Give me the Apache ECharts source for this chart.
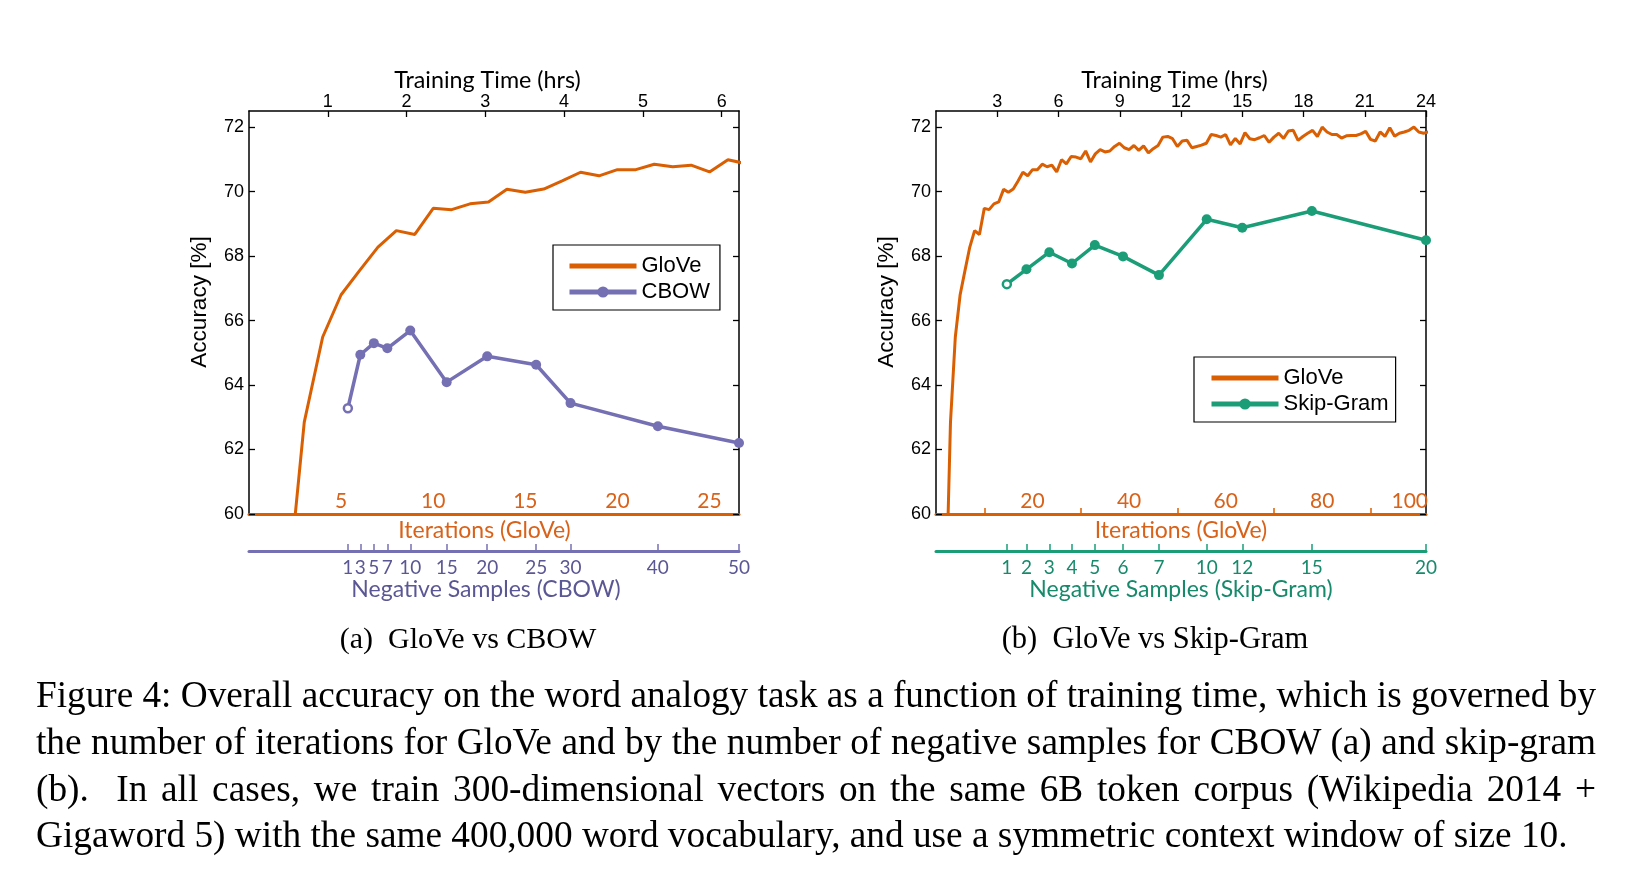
<!DOCTYPE html>
<html>
<head>
<meta charset="utf-8">
<script src="https://cdn.jsdelivr.net/npm/echarts@6/dist/echarts.min.js"></script>
<style>
html,body{margin:0;padding:0;background:#fff;}
#chart{position:absolute;left:0;top:0;width:1630px;height:874px;}
.sub{position:absolute;font-family:'Liberation Serif','Times New Roman',serif;color:#000;white-space:nowrap;transform:translate(-50%,-50%);}
#cap{position:absolute;left:36px;top:672px;width:1560px;font-family:'Liberation Serif','Times New Roman',serif;font-size:37.3px;line-height:46.8px;color:#000;}
#cap div{white-space:nowrap;text-align:justify;text-align-last:justify;width:1560px;}
#cap div.last{text-align-last:left;}
</style>
</head>
<body>
<div id="chart"></div>
<div class="sub" style="left:468px;top:638px;font-size:30px">(a)&nbsp; GloVe vs CBOW</div>
<div class="sub" style="left:1155px;top:638px;font-size:30.5px">(b)&nbsp; GloVe vs Skip-Gram</div>
<div id="cap">
<div>Figure 4: Overall accuracy on the word analogy task as a function of training time, which is governed by</div>
<div>the number of iterations for GloVe and by the number of negative samples for CBOW (a) and skip-gram</div>
<div>(b).&nbsp; In all cases, we train 300-dimensional vectors on the same 6B token corpus (Wikipedia 2014 +</div>
<div class="last">Gigaword 5) with the same 400,000 word vocabulary, and use a symmetric context window of size 10.</div>
</div>
<script>
// ---------------- data ----------------
const accuracyTicks = [60, 62, 64, 66, 68, 70, 72];

// GloVe: accuracy vs iteration (shared by both panels)
const gloveIterations = [2,3,4,5,6,7,8,9,10,11,12,13,14,15,16,17,18,19,20,21,22,23,24,25,26,27,
  28,29,30,31,32,33,34,35,36,37,38,39,40,41,42,43,44,45,46,47,48,49,50,51,52,
  53,54,55,56,57,58,59,60,61,62,63,64,65,66,67,68,69,70,71,72,73,74,75,76,77,
  78,79,80,81,82,83,84,85,86,87,88,89,90,91,92,93,94,95,96,97,98,99,100,101,102];
const gloveAccuracy = [57.0,62.85,65.49,66.80,67.55,68.28,68.79,68.67,69.48,69.44,69.62,69.68,70.07,69.98,70.08,70.33,70.60,70.49,70.68,70.68,70.85,70.77,70.82,70.61,70.99,70.86,
  71.09,71.07,71.02,71.26,70.92,71.17,71.30,71.23,71.26,71.40,71.50,71.36,71.30,71.43,71.28,71.42,71.20,71.33,71.43,71.69,71.71,71.64,71.40,71.57,71.59,
  71.36,71.40,71.44,71.50,71.77,71.74,71.69,71.77,71.45,71.65,71.48,71.83,71.64,71.61,71.67,71.74,71.53,71.69,71.81,71.65,71.88,71.90,71.59,71.71,71.81,
  71.90,71.71,72.00,71.85,71.77,71.77,71.66,71.73,71.74,71.74,71.79,71.87,71.62,71.57,71.85,71.71,71.98,71.72,71.81,71.85,71.90,72.00,71.85,71.81,71.85];

// Panel (a)
const hoursTicksA = [1, 2, 3, 4, 5, 6];
const iterLabelsA = [5, 10, 15, 20, 25];
const cbowNegSamples = [1, 3, 5, 7, 10, 15, 20, 25, 30, 40, 50];
const cbowHours = [1.255, 1.413, 1.585, 1.756, 2.047, 2.509, 3.024, 3.645, 4.081, 5.190, 6.22];
const cbowAccuracy = [63.28, 64.94, 65.30, 65.14, 65.69, 64.09, 64.89, 64.63, 63.44, 62.72, 62.20];

// Panel (b)
const hoursTicksB = [3, 6, 9, 12, 15, 18, 21, 24];
const iterTicksB = [10, 30, 50, 70, 90];
const iterLabelsB = [20, 40, 60, 80, 100];
const sgNegSamples = [1, 2, 3, 4, 5, 6, 7, 10, 12, 15, 20];
const sgHours = [3.47, 4.43, 5.55, 6.66, 7.78, 9.16, 10.92, 13.26, 15.00, 18.41, 24.0];
const sgAccuracy = [67.13, 67.59, 68.12, 67.77, 68.34, 67.99, 67.41, 69.14, 68.88, 69.40, 68.49];

// ---------------- styling ----------------
const C_GLOVE = '#d95f02', C_CBOW = '#7570b3', C_SG = '#1b9e77';
const T_GLOVE = '#d9621a', T_CBOW = '#5b5794', T_SG = '#168a6b';
const SANS = '"Liberation Sans", Arial, Helvetica, sans-serif';
const HUM = 'Lato, "Open Sans", sans-serif';

function lookup(keys, vals, v) {
  let best = 0, d = Infinity;
  keys.forEach((k, i) => { const dd = Math.abs(k - v); if (dd < d) { d = dd; best = i; } });
  return String(vals[best]);
}

const gloveData = gloveIterations.map((it, i) => [it, gloveAccuracy[i]]);
function markerData(xs, ys, color) {
  return xs.map((x, i) => i === 0
    ? { value: [x, ys[i]], symbolSize: 8, itemStyle: { color: '#fff', borderColor: color, borderWidth: 2.5 } }
    : [x, ys[i]]);
}

function yAxes(g) {
  const common = {
    type: 'value', gridIndex: g, min: 60, max: 72.5,
    axisLine: { show: true, onZero: false, lineStyle: { color: '#000', width: 1.5 } },
    axisTick: { show: true, inside: true, length: 6, lineStyle: { color: '#000', width: 1.3 }, customValues: accuracyTicks },
    splitLine: { show: false }
  };
  return [
    Object.assign({}, common, {
      position: 'left',
      axisLabel: { show: true, margin: 5, color: '#000', fontFamily: SANS, fontSize: 18, customValues: accuracyTicks },
      name: 'Accuracy [%]', nameLocation: 'middle', nameGap: 38, nameRotate: 90, nameMoveOverlap: false,
      nameTextStyle: { color: '#000', fontFamily: SANS, fontSize: 22.5, padding: [0, 0, 0, 21] }
    }),
    Object.assign({}, common, { position: 'right', axisLabel: { show: false } })
  ];
}

function topAxis(g, max, ticks) {
  return {
    type: 'value', gridIndex: g, position: 'top', min: 0, max: max,
    axisLine: { show: true, onZero: false, lineStyle: { color: '#000', width: 1.5 } },
    axisTick: { show: true, inside: true, length: 6, lineStyle: { color: '#000', width: 1.3 }, customValues: ticks },
    axisLabel: { show: true, margin: 0, color: '#000', fontFamily: SANS, fontSize: 18, customValues: ticks },
    splitLine: { show: false },
    name: 'Training Time (hrs)', nameLocation: 'middle', nameGap: 19, nameMoveOverlap: false,
    nameTextStyle: { color: '#000', fontFamily: HUM, fontSize: 23.3, padding: [0, 13, 0, 0] }
  };
}

function iterAxis(g, max, ticks, labels, shift) {
  return {
    type: 'value', gridIndex: g, position: 'bottom', min: 0, max: max,
    axisLine: { show: true, onZero: false, lineStyle: { color: C_GLOVE, width: 3 } },
    axisTick: ticks ? { show: true, inside: true, length: 6, lineStyle: { color: C_GLOVE, width: 1.5 }, customValues: ticks } : { show: false },
    axisLabel: {
      show: true, inside: true, margin: 2, color: T_GLOVE, fontFamily: HUM, fontSize: 21, customValues: labels,
      formatter: v => (v === 100 ? '{r|100}' : String(v)),
      rich: { r: { color: T_GLOVE, fontFamily: HUM, fontSize: 21, padding: [0, 18, 0, 0] } }
    },
    splitLine: { show: false },
    name: 'Iterations (GloVe)', nameLocation: 'middle', nameGap: 5, nameMoveOverlap: false,
    nameTextStyle: { color: T_GLOVE, fontFamily: HUM, fontSize: 23, padding: [0, shift, 0, 0] }
  };
}

function negAxis(g, max, hours, negs, lineColor, textColor, title, shift) {
  return {
    type: 'value', gridIndex: g, position: 'bottom', offset: 37, min: 0, max: max,
    axisLine: { show: true, onZero: false, lineStyle: { color: lineColor, width: 3 } },
    axisTick: { show: true, inside: true, length: 7, lineStyle: { color: lineColor, width: 1.5 }, customValues: hours },
    axisLabel: { show: true, margin: 7, color: textColor, fontFamily: HUM, fontSize: 19, customValues: hours,
      formatter: v => lookup(hours, negs, v) },
    splitLine: { show: false },
    name: title, nameLocation: 'middle', nameGap: 27, nameMoveOverlap: false,
    nameTextStyle: { color: textColor, fontFamily: HUM, fontSize: 23, padding: [0, shift, 0, 0] }
  };
}

const option = {
  animation: false,
  backgroundColor: '#fff',
  grid: [
    { left: 249, top: 111, width: 490, height: 403, containLabel: false, outerBoundsMode: 'none' },
    { left: 936, top: 111, width: 490, height: 403, containLabel: false, outerBoundsMode: 'none' }
  ],
  xAxis: [
    iterAxis(0, 26.6, null, iterLabelsA, 19),
    topAxis(0, 6.22, hoursTicksA),
    negAxis(0, 6.22, cbowHours, cbowNegSamples, C_CBOW, T_CBOW, 'Negative Samples (CBOW)', 16),
    iterAxis(1, 101.5, iterTicksB, iterLabelsB, 0),
    topAxis(1, 24, hoursTicksB),
    negAxis(1, 24, sgHours, sgNegSamples, C_SG, T_SG, 'Negative Samples (Skip-Gram)', 0)
  ],
  yAxis: yAxes(0).concat(yAxes(1)),
  legend: [
    {
      data: [{ name: 'GloVe', itemStyle: { opacity: 0 } }, 'CBOW'],
      orient: 'vertical', left: 553, top: 245, padding: [10, 10, 7, 14], itemGap: 4,
      itemWidth: 67, itemHeight: 14, borderColor: '#000', borderWidth: 1.2, borderRadius: 0,
      backgroundColor: '#fff', selectedMode: false,
      textStyle: { color: '#000', fontFamily: SANS, fontSize: 22 },
      lineStyle: { width: 5 }
    },
    {
      data: [{ name: 'GloVe', itemStyle: { opacity: 0 } }, 'Skip-Gram'],
      orient: 'vertical', left: 1194, top: 357, padding: [10, 7, 7, 15], itemGap: 4,
      itemWidth: 67, itemHeight: 14, borderColor: '#000', borderWidth: 1.2, borderRadius: 0,
      backgroundColor: '#fff', selectedMode: false,
      textStyle: { color: '#000', fontFamily: SANS, fontSize: 22 },
      lineStyle: { width: 5 }
    }
  ],
  series: [
    { type: 'line', name: 'GloVe', xAxisIndex: 0, yAxisIndex: 0, data: gloveData, symbol: 'none',
      lineStyle: { color: C_GLOVE, width: 3 }, itemStyle: { color: C_GLOVE }, clip: true, z: 3 },
    { type: 'line', name: 'CBOW', xAxisIndex: 2, yAxisIndex: 0, data: markerData(cbowHours, cbowAccuracy, C_CBOW),
      symbol: 'circle', symbolSize: 10, lineStyle: { color: C_CBOW, width: 3.5 }, itemStyle: { color: C_CBOW }, clip: true, z: 4 },
    { type: 'line', name: 'GloVe', xAxisIndex: 3, yAxisIndex: 2, data: gloveData, symbol: 'none',
      lineStyle: { color: C_GLOVE, width: 3 }, itemStyle: { color: C_GLOVE }, clip: true, z: 3 },
    { type: 'line', name: 'Skip-Gram', xAxisIndex: 5, yAxisIndex: 2, data: markerData(sgHours, sgAccuracy, C_SG),
      symbol: 'circle', symbolSize: 10, lineStyle: { color: C_SG, width: 3.5 }, itemStyle: { color: C_SG }, clip: true, z: 4 }
  ]
};

const chart = echarts.init(document.getElementById('chart'), null, { renderer: 'canvas' });
chart.setOption(option);

// keep each caption line on one row: shrink horizontally if its natural width exceeds the column
document.querySelectorAll('#cap div').forEach(d => {
  const probe = document.createElement('span');
  probe.style.cssText = 'position:absolute;visibility:hidden;white-space:nowrap;';
  probe.innerHTML = d.innerHTML;
  document.getElementById('cap').appendChild(probe);
  const w = probe.getBoundingClientRect().width;
  probe.remove();
  if (w > 1560) {
    d.style.width = w + 'px';
    d.style.textAlignLast = 'left';
    d.style.transformOrigin = '0 0';
    d.style.transform = 'scaleX(' + (1560 / w) + ')';
  }
});
</script>
</body>
</html>
